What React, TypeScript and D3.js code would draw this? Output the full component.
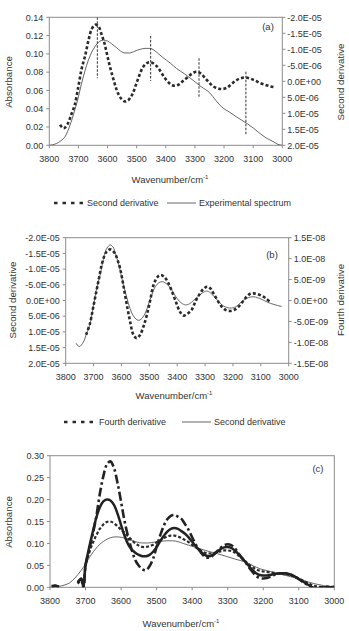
import React from "react";
import * as d3 from "d3";

// ---------- tick labels ----------
const wnTicks = [3800, 3700, 3600, 3500, 3400, 3300, 3200, 3100, 3000];
const absTicksA = [0, 0.02, 0.04, 0.06, 0.08, 0.1, 0.12, 0.14];
const absTicksC = [0, 0.05, 0.1, 0.15, 0.2, 0.25, 0.3];
const d2Ticks = [-2e-5, -1.5e-5, -1e-5, -5e-6, 0, 5e-6, 1e-5, 1.5e-5, 2e-5];
const d4Ticks = [1.5e-8, 1e-8, 5e-9, 0, -5e-9, -1e-8, -1.5e-8];

// ---------- experimental spectrum ----------
const expWn = [3800, 3790, 3775, 3760, 3745, 3730, 3712, 3700, 3689, 3678, 3666, 3654, 3643, 3630, 3615, 3600, 3586, 3570, 3555, 3540, 3525, 3506, 3488, 3471, 3455, 3440, 3425, 3410, 3385, 3363, 3335, 3306, 3278, 3248, 3228, 3208, 3180, 3157, 3122, 3100, 3077, 3055, 3031, 3015, 3000];
const expAbs = [0, 0.0005, 0.002, 0.005, 0.010, 0.021, 0.039, 0.053, 0.068, 0.081, 0.093, 0.102, 0.108, 0.113, 0.115, 0.114, 0.111, 0.107, 0.103, 0.101, 0.101, 0.103, 0.105, 0.106, 0.106, 0.104, 0.100, 0.096, 0.090, 0.084, 0.078, 0.071, 0.064, 0.057, 0.049, 0.042, 0.036, 0.031, 0.024, 0.019, 0.013, 0.008, 0.004, 0.001, 0];

// ---------- second derivative ----------
const d2Wn = [3763, 3751, 3737, 3725, 3713, 3700, 3689, 3677, 3665, 3655, 3646, 3640, 3630, 3620, 3611, 3602, 3593, 3581, 3569, 3555, 3540, 3530, 3515, 3503, 3491, 3478, 3465, 3452, 3437, 3426, 3412, 3400, 3385, 3370, 3355, 3342, 3326, 3310, 3294, 3280, 3265, 3250, 3235, 3218, 3205, 3190, 3175, 3160, 3145, 3128, 3112, 3095, 3075, 3055, 3040, 3025];
const d2Val = [1.36e-5, 1.47e-5, 1.33e-5, 1.05e-5, 0.75e-5, 0.15e-5, -0.39e-5, -0.8e-5, -1.3e-5, -1.62e-5, -1.74e-5, -1.77e-5, -1.7e-5, -1.45e-5, -1.2e-5, -0.85e-5, -0.5e-5, -0.1e-5, 0.26e-5, 0.52e-5, 0.63e-5, 0.6e-5, 0.41e-5, 0.12e-5, -0.18e-5, -0.45e-5, -0.57e-5, -0.6e-5, -0.52e-5, -0.42e-5, -0.22e-5, -0.06e-5, 0.08e-5, 0.14e-5, 0.1e-5, 0, -0.12e-5, -0.24e-5, -0.3e-5, -0.24e-5, -0.1e-5, 0.05e-5, 0.17e-5, 0.23e-5, 0.24e-5, 0.2e-5, 0.09e-5, -0.02e-5, -0.09e-5, -0.12e-5, -0.09e-5, -0.03e-5, 0.06e-5, 0.12e-5, 0.16e-5, 0.19e-5];

// ---------- fourth derivative ----------
const d4Wn = [3727, 3713, 3701, 3689, 3680, 3671, 3662, 3653, 3641, 3632, 3623, 3614, 3605, 3596, 3587, 3578, 3569, 3557, 3545, 3533, 3521, 3509, 3497, 3485, 3471, 3459, 3446, 3432, 3414, 3402, 3390, 3378, 3366, 3348, 3333, 3318, 3304, 3292, 3280, 3270, 3255, 3240, 3225, 3210, 3195, 3180, 3165, 3151, 3138, 3127, 3110, 3091, 3078, 3067];
const d4Val = [-0.82e-8, -0.55e-8, -0.15e-8, 0.25e-8, 0.55e-8, 0.85e-8, 1.05e-8, 1.17e-8, 1.22e-8, 1.19e-8, 1.12e-8, 0.97e-8, 0.77e-8, 0.47e-8, 0.13e-8, -0.2e-8, -0.5e-8, -0.82e-8, -0.9e-8, -0.82e-8, -0.62e-8, -0.35e-8, 0, 0.37e-8, 0.56e-8, 0.61e-8, 0.56e-8, 0.42e-8, 0.13e-8, -0.08e-8, -0.27e-8, -0.36e-8, -0.33e-8, -0.22e-8, 0, 0.17e-8, 0.29e-8, 0.33e-8, 0.28e-8, 0.17e-8, 0, -0.15e-8, -0.23e-8, -0.25e-8, -0.22e-8, -0.15e-8, -0.03e-8, 0.09e-8, 0.16e-8, 0.17e-8, 0.15e-8, 0.09e-8, 0.03e-8, -0.04e-8];

// ---------- peak markers (panel a) ----------
const peakWn = [3635, 3452, 3286, 3125];
const peakTop = [0.14, 0.1196, 0.0952, 0.0805];
const peakBottom = [0.0733, 0.0704, 0.0514, 0.0113];

// ---------- panel c enhanced spectra ----------
const wnC = [3795, 3785, 3775, 3765, 3722, 3712, 3706, 3700, 3690, 3680, 3670, 3660, 3650, 3640, 3630, 3620, 3610, 3600, 3590, 3580, 3570, 3560, 3550, 3540, 3530, 3520, 3510, 3500, 3490, 3480, 3470, 3460, 3450, 3440, 3430, 3420, 3410, 3400, 3390, 3380, 3370, 3360, 3350, 3340, 3330, 3320, 3310, 3300, 3290, 3280, 3270, 3260, 3250, 3240, 3230, 3220, 3210, 3200, 3190, 3180, 3170, 3160, 3150, 3140, 3130, 3120, 3110, 3100, 3090, 3080, 3070, 3060, 3050, 3040, 3030, 3020, 3010, 3000];
const dashDotC = [0.003, 0.004, 0.001, null, 0.012, 0.018, 0.0, 0.05, 0.085, 0.12, 0.16, 0.212, 0.253, 0.28, 0.287, 0.272, 0.238, 0.195, 0.15, 0.115, 0.085, 0.062, 0.049, 0.041, 0.039, 0.048, 0.065, 0.092, 0.118, 0.14, 0.155, 0.163, 0.165, 0.161, 0.156, 0.144, 0.131, 0.114, 0.098, 0.085, 0.074, 0.068, 0.068, 0.074, 0.082, 0.09, 0.096, 0.098, 0.096, 0.089, 0.078, 0.067, 0.057, 0.045, 0.035, 0.026, 0.021, 0.02, 0.021, 0.024, 0.028, 0.031, 0.032, 0.032, 0.031, 0.028, 0.024, 0.019, 0.013, 0.008, 0.003, -0.003, -0.004, -0.002, 0.0, 0.001, 0.0, 0.001];
const boldC = [0.002, 0.003, 0.001, null, 0.01, 0.02, 0.0, 0.05, 0.09, 0.125, 0.158, 0.182, 0.196, 0.2, 0.198, 0.188, 0.168, 0.142, 0.117, 0.098, 0.086, 0.079, 0.074, 0.071, 0.071, 0.074, 0.081, 0.092, 0.105, 0.117, 0.127, 0.133, 0.135, 0.133, 0.128, 0.122, 0.114, 0.104, 0.094, 0.085, 0.077, 0.072, 0.071, 0.075, 0.081, 0.087, 0.091, 0.092, 0.09, 0.084, 0.076, 0.067, 0.058, 0.048, 0.039, 0.032, 0.028, 0.027, 0.027, 0.028, 0.03, 0.031, 0.032, 0.032, 0.031, 0.028, 0.024, 0.019, 0.014, 0.009, 0.004, -0.001, -0.002, -0.001, 0.0, 0.001, 0.0, 0.001];
const dashedC = [0.001, 0.002, 0.001, null, 0.008, 0.015, 0.002, 0.05, 0.078, 0.1, 0.118, 0.133, 0.143, 0.149, 0.15, 0.146, 0.139, 0.131, 0.124, 0.116, 0.108, 0.1, 0.095, 0.092, 0.092, 0.094, 0.097, 0.102, 0.107, 0.112, 0.116, 0.118, 0.118, 0.116, 0.112, 0.108, 0.103, 0.097, 0.091, 0.086, 0.081, 0.078, 0.077, 0.078, 0.08, 0.082, 0.084, 0.084, 0.083, 0.079, 0.073, 0.066, 0.059, 0.052, 0.046, 0.041, 0.038, 0.036, 0.035, 0.034, 0.033, 0.032, 0.031, 0.03, 0.029, 0.027, 0.024, 0.02, 0.016, 0.012, 0.008, 0.004, 0.002, 0.001, 0.0, 0.0, 0.0, 0.0];

// ---------- helpers ----------
const FONT = "'Liberation Sans', Arial, Helvetica, sans-serif";
const TXT = "#333";
const AXC = "#8c8c8c";

function expFmt(v: number): string {
  if (Math.abs(v) < 1e-20) return "0.0E+00";
  const e = Math.floor(Math.log10(Math.abs(v)) + 1e-9);
  const m = v / Math.pow(10, e);
  const ea = Math.abs(e);
  return m.toFixed(1) + "E" + (e < 0 ? "-" : "+") + (ea < 10 ? "0" + ea : "" + ea);
}

type Pt = [number, number | null];
function zip(a: number[], b: (number | null)[]): Pt[] {
  return a.map((v, i) => [v, b[i]] as Pt);
}

function Frame({ x0, x1, y0, y1, yScaleL, ticksL, fmtL, yScaleR, ticksR, fmtR, xScale }: any) {
  return (
    <g>
      <rect x={x0} y={y0} width={x1 - x0} height={y1 - y0} fill="none" stroke={AXC} strokeWidth={1} />
      {wnTicks.map((t) => (
        <g key={"x" + t}>
          <line x1={xScale(t)} x2={xScale(t)} y1={y1} y2={y1 + 3} stroke={AXC} />
          <text x={xScale(t)} y={y1 + 16.5} textAnchor="middle" fontSize={9} fill={TXT}>{t}</text>
        </g>
      ))}
      {ticksL.map((t: number) => (
        <g key={"l" + t}>
          <line x1={x0 - 3} x2={x0} y1={yScaleL(t)} y2={yScaleL(t)} stroke={AXC} />
          <text x={x0 - 6} y={yScaleL(t) + 3.2} textAnchor="end" fontSize={9} fill={TXT}>{fmtL(t)}</text>
        </g>
      ))}
      {yScaleR && ticksR.map((t: number) => (
        <g key={"r" + t}>
          <line x1={x1} x2={x1 + 3} y1={yScaleR(t)} y2={yScaleR(t)} stroke={AXC} />
          <text x={x1 + 5} y={yScaleR(t) + 3.2} textAnchor="start" fontSize={9} fill={TXT}>{fmtR(t)}</text>
        </g>
      ))}
    </g>
  );
}

function VTitle({ x, y, text }: { x: number; y: number; text: string }) {
  return (
    <text x={x} y={y} transform={`rotate(-90 ${x} ${y})`} textAnchor="middle" dominantBaseline="central" fontSize={9.7} fill={TXT}>{text}</text>
  );
}

function WnTitle({ x, y }: { x: number; y: number }) {
  return (
    <text x={x} y={y} textAnchor="middle" fontSize={9.5} fill={TXT}>
      Wavenumber/cm<tspan fontSize={6} dy={-4}>-1</tspan>
    </text>
  );
}

export default function App() {
  // Panel A
  const axA = d3.scaleLinear().domain([3800, 3000]).range([49.3, 282.3]);
  const ayA = d3.scaleLinear().domain([0, 0.14]).range([145.3, 17.3]);
  const ayA2 = d3.scaleLinear().domain([-2e-5, 2e-5]).range([17.3, 145.3]);
  // Panel B
  const axB = d3.scaleLinear().domain([3800, 3000]).range([65.7, 288.7]);
  const ayB = d3.scaleLinear().domain([-2e-5, 2e-5]).range([237.7, 363.3]);
  const ayB4 = d3.scaleLinear().domain([1.5e-8, -1.5e-8]).range([237.7, 363.3]);
  // Panel C
  const axC = d3.scaleLinear().domain([3800, 3000]).range([50, 334.3]);
  const ayC = d3.scaleLinear().domain([0, 0.3]).range([587.3, 455.7]);

  const mk = (xs: any, ys: any, curve: any) =>
    d3.line<Pt>()
      .defined((d) => d[1] !== null)
      .x((d) => xs(d[0]))
      .y((d) => ys(d[1] as number))
      .curve(curve);

  const exp = zip(expWn, expAbs);
  const d2 = zip(d2Wn, d2Val);
  const d4 = zip(d4Wn, d4Val);

  const smooth = d3.curveCatmullRom.alpha(0.5);

  return (
    <svg width={349} height={631} style={{ position: "absolute", left: 0, top: 0, background: "#fff" }} fontFamily={FONT}>
      <defs>
        <clipPath id="clipA"><rect x={49.3} y={17.3} width={233} height={128} /></clipPath>
        <clipPath id="clipB"><rect x={65.7} y={237.7} width={223} height={125.6} /></clipPath>
        <clipPath id="clipC"><rect x={50} y={455.7} width={284.3} height={131.6} /></clipPath>
      </defs>

      {/* ---------------- Panel A ---------------- */}
      <Frame x0={49.3} x1={282.3} y0={17.3} y1={145.3} xScale={axA}
        yScaleL={ayA} ticksL={absTicksA} fmtL={(v: number) => v.toFixed(2)}
        yScaleR={ayA2} ticksR={d2Ticks} fmtR={expFmt} />
      <g clipPath="url(#clipA)">
        <path d={mk(axA, ayA, d3.curveMonotoneX)(exp) || ""} fill="none" stroke="#555" strokeWidth={0.9} />
        <path d={mk(axA, ayA2, smooth)(d2) || ""} fill="none" stroke="#2a2a2a" strokeWidth={2.6} strokeDasharray="3 2.2" />
        {peakWn.map((w, i) => (
          <line key={w} x1={axA(w)} x2={axA(w)} y1={ayA(peakTop[i])} y2={ayA(peakBottom[i])} stroke="#333" strokeWidth={1} strokeDasharray="2.5 1.5" />
        ))}
      </g>
      <text x={268} y={30} textAnchor="middle" fontSize={9.5} fill={TXT}>(a)</text>
      <VTitle x={8.5} y={82} text="Absorbance" />
      <VTitle x={340} y={82} text="Second derivative" />
      <WnTitle x={170} y={183} />
      {/* legend A */}
      <line x1={54} x2={84} y1={203} y2={203} stroke="#2a2a2a" strokeWidth={2.6} strokeDasharray="3.5 5" />
      <text x={87} y={206.3} fontSize={9} fill={TXT}>Second derivative</text>
      <line x1={167} x2={196} y1={203} y2={203} stroke="#555" strokeWidth={0.9} />
      <text x={199} y={206.3} fontSize={9} fill={TXT}>Experimental spectrum</text>

      {/* ---------------- Panel B ---------------- */}
      <Frame x0={65.7} x1={288.7} y0={237.7} y1={363.3} xScale={axB}
        yScaleL={ayB} ticksL={d2Ticks} fmtL={expFmt}
        yScaleR={ayB4} ticksR={d4Ticks} fmtR={expFmt} />
      <g clipPath="url(#clipB)">
        <path d={mk(axB, ayB, smooth)(d2) || ""} fill="none" stroke="#555" strokeWidth={0.9} />
        <path d={mk(axB, ayB4, smooth)(d4) || ""} fill="none" stroke="#2a2a2a" strokeWidth={2.6} strokeDasharray="3 2.2" />
      </g>
      <text x={272} y={258} textAnchor="middle" fontSize={9.5} fill={TXT}>(b)</text>
      <VTitle x={12.7} y={300} text="Second derivative" />
      <VTitle x={340} y={300} text="Fourth derivative" />
      <WnTitle x={174} y={399} />
      {/* legend B */}
      <line x1={64} x2={97} y1={422} y2={422} stroke="#2a2a2a" strokeWidth={2.6} strokeDasharray="3.5 5" />
      <text x={99} y={425.3} fontSize={9} fill={TXT}>Fourth derivative</text>
      <line x1={182} x2={211} y1={422} y2={422} stroke="#555" strokeWidth={0.9} />
      <text x={214} y={425.3} fontSize={9} fill={TXT}>Second derivative</text>

      {/* ---------------- Panel C ---------------- */}
      <Frame x0={50} x1={334.3} y0={455.7} y1={587.3} xScale={axC}
        yScaleL={ayC} ticksL={absTicksC} fmtL={(v: number) => v.toFixed(2)} />
      <g clipPath="url(#clipC)">
        <path d={mk(axC, ayC, d3.curveMonotoneX)(exp) || ""} fill="none" stroke="#555" strokeWidth={0.9} />
        <path d={mk(axC, ayC, smooth)(zip(wnC, dashedC)) || ""} fill="none" stroke="#2a2a2a" strokeWidth={2.2} strokeDasharray="3 2" />
        <path d={mk(axC, ayC, smooth)(zip(wnC, boldC)) || ""} fill="none" stroke="#222" strokeWidth={2.5} />
        <path d={mk(axC, ayC, smooth)(zip(wnC, dashDotC)) || ""} fill="none" stroke="#222" strokeWidth={2.6} strokeDasharray="9 3 2.5 3" />
      </g>
      <text x={318} y={471.5} textAnchor="middle" fontSize={9.5} fill={TXT}>(c)</text>
      <VTitle x={8.5} y={522} text="Absorbance" />
      <WnTitle x={181} y={627} />
    </svg>
  );
}
